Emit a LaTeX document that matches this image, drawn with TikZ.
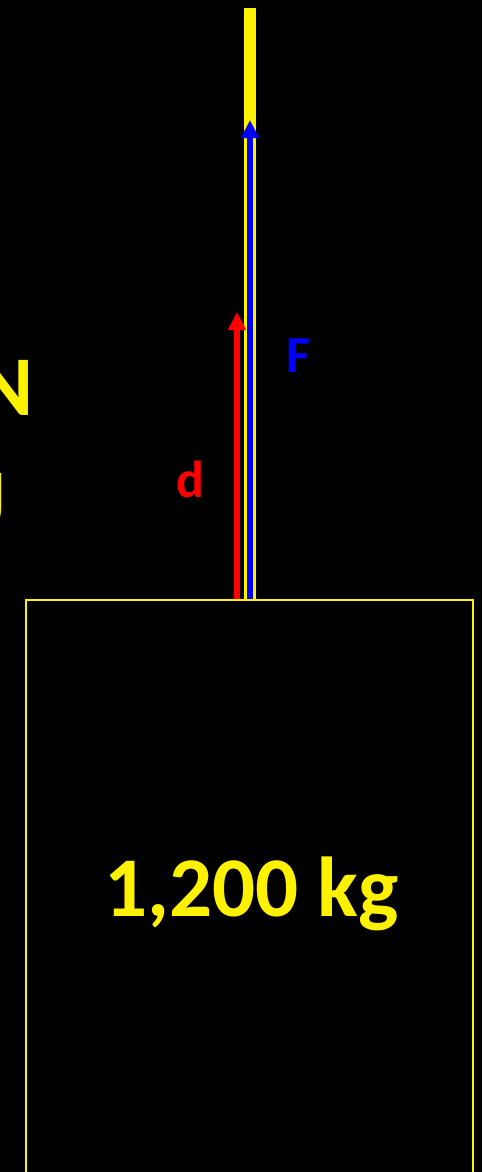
\documentclass[tikz,border=0pt]{standalone}
\usepackage{fontspec}
\setmainfont{Carlito}
\usetikzlibrary{arrows.meta}

\begin{document}
\begin{tikzpicture}[x=1pt, y=-1pt, line cap=butt,
  bigtxt/.style={font=\bfseries\fontsize{85}{85}\selectfont, text=yellow, inner sep=0pt},
  vectxt/.style={font=\bfseries\fontsize{52}{52}\selectfont, inner sep=0pt},
  vec/.style={line width=6, -{Triangle[length=18pt, width=17pt]}}]
  \useasboundingbox (0,0) rectangle (482,1172);
  \fill[black] (0,0) rectangle (482,1172);
  \clip (0,0) rectangle (482,1172);

  \coordinate (R1) at (250,8);
  \coordinate (R2) at (250,600);
  \coordinate (Ft) at (250,120);
  \coordinate (d1) at (237,600);
  \coordinate (d2) at (237,312);
  \coordinate (B1) at (26,600);
  \coordinate (B2) at (473,1200);

  % rope and vectors
  \draw[yellow, line width=12] (R2)--(R1);
  \draw[vec, blue] (R2)--(Ft);
  \draw[vec, red] (d1)--(d2);

  % the load
  \draw[yellow, line width=2] (B1) rectangle (B2);

  \node[bigtxt, anchor=base] (mass) at (251.5,916) {1,200 kg};
  \node[bigtxt, anchor=base east] (unitN) at (34,415) {N};
  \node[bigtxt, anchor=base east] (unitJ) at (5.5,528) {J};
  \node[vectxt, text=blue, anchor=base west] (F) at (286,372) {F};
  \node[vectxt, text=red, anchor=base] (d) at (190,497) {d};
\end{tikzpicture}
\end{document}
